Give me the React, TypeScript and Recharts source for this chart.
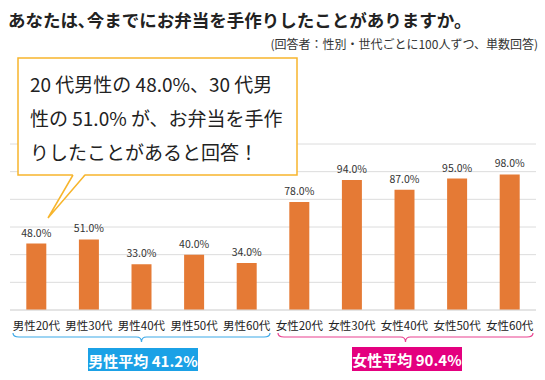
import { BarChart, Bar, XAxis, YAxis, CartesianGrid, LabelList } from "recharts";

// 回答者：性別・世代ごとに100人ずつ
const categories = [
  "男性20代", "男性30代", "男性40代", "男性50代", "男性60代",
  "女性20代", "女性30代", "女性40代", "女性50代", "女性60代",
];
const values = [48, 51, 33, 40, 34, 78, 94, 87, 95, 98];
const yTicks = [0, 20, 40, 60, 80, 100, 120];

const calloutLines = [
  "20 代男性の 48.0%、30 代男",
  "性の 51.0% が、お弁当を手作",
  "りしたことがあると回答！",
];

const FONT = "'Noto Sans CJK JP', 'Noto Sans', sans-serif";
const ORANGE = "#E57A35";

const data = categories.map((name, i) => ({ name, value: values[i] }));

const avg = (arr: number[]) => (arr.reduce((a, b) => a + b, 0) / arr.length).toFixed(1);
const menAvg = avg(values.slice(0, 5));
const womenAvg = avg(values.slice(5));

// curly brace under a group of categories
function brace(x1: number, x2: number, top: number) {
  const cx = (x1 + x2) / 2;
  const mid = top + 4;
  return `M${x1},${top} Q${x1},${mid} ${x1 + 6},${mid} L${cx - 5},${mid} Q${cx},${mid} ${cx},${mid + 5} Q${cx},${mid} ${cx + 5},${mid} L${x2 - 6},${mid} Q${x2},${mid} ${x2},${top}`;
}

export default function App() {
  return (
    <div style={{ position: "absolute", left: 0, top: 0, width: 545, height: 380, background: "#fff", fontFamily: FONT }}>
      <BarChart
        width={545}
        height={380}
        data={data}
        margin={{ top: 144, right: 9, bottom: 40, left: 10 }}
        barCategoryGap="31%"
      >
        <CartesianGrid vertical={false} stroke="#DCDCDC" />
        <YAxis hide domain={[0, 120]} ticks={yTicks} />
        <XAxis
          dataKey="name"
          axisLine={{ stroke: "#DCDCDC" }}
          tickLine={false}
          interval={0}
          tick={{ fill: "#222", fontSize: 11.5, fontFamily: FONT }}
          tickMargin={6}
        />
        <Bar dataKey="value" fill={ORANGE} isAnimationActive={false}>
          <LabelList
            dataKey="value"
            position="top"
            offset={7}
            formatter={(v: any) => `${Number(v).toFixed(1)}%`}
            style={{ fill: "#333", fontSize: 10.5, fontFamily: FONT }}
          />
        </Bar>
      </BarChart>

      <svg
        width={545}
        height={380}
        style={{ position: "absolute", left: 0, top: 0, pointerEvents: "none" }}
        fontFamily={FONT}
      >
        <text x={8} y={19} fontSize={17.5} fontWeight="bold" fill="#222" dominantBaseline="central">
          あなたは､今までにお弁当を手作りしたことがありますか。
        </text>
        <text x={538} y={43} fontSize={12} fill="#333" textAnchor="end" dominantBaseline="central">
          (回答者：性別・世代ごとに100人ずつ、単数回答)
        </text>

        {/* callout */}
        <rect x={18} y={58} width={279} height={117} fill="#fff" stroke="#F7B52C" strokeWidth={1.5} />
        <polygon points="73,174 48,218 85,174" fill="#fff" />
        <polyline points="73,175 48,218 85,175" fill="none" stroke="#F7B52C" strokeWidth={1.5} />
        {calloutLines.map((t, i) => (
          <text key={i} x={30} y={83 + i * 34} fontSize={19} fill="#222" dominantBaseline="central">
            {t}
          </text>
        ))}

        {/* group braces */}
        <path d={brace(13, 270, 333)} fill="none" stroke="#3DA9E8" strokeWidth={1.2} />
        <path d={brace(278, 533, 333)} fill="none" stroke="#E9418F" strokeWidth={1.2} />

        <rect x={88} y={348} width={110} height={23} fill="#1BA1E6" />
        <text x={143} y={360} fontSize={15} fontWeight="bold" fill="#fff" textAnchor="middle" dominantBaseline="central">
          {`男性平均 ${menAvg}%`}
        </text>
        <rect x={352} y={347} width={110} height={24} fill="#E4007F" />
        <text x={407} y={359.5} fontSize={15} fontWeight="bold" fill="#fff" textAnchor="middle" dominantBaseline="central">
          {`女性平均 ${womenAvg}%`}
        </text>
      </svg>
    </div>
  );
}
